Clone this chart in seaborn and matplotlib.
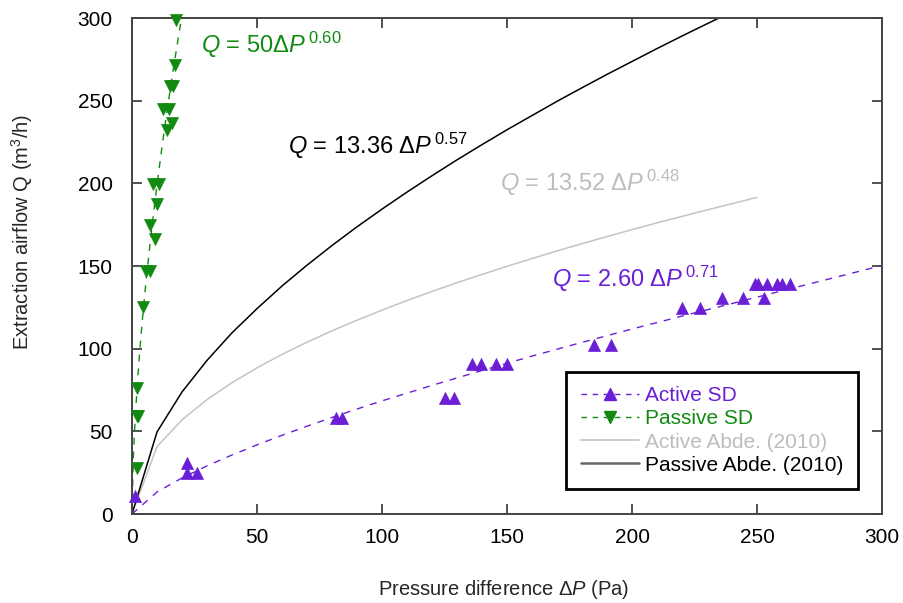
import matplotlib
matplotlib.use("Agg")
import matplotlib.pyplot as plt
import seaborn as sns
import numpy as np
from matplotlib.lines import Line2D

# ---------------- data ----------------
active_dp = [1.2, 21.9, 22.1, 26.1, 81.5, 83.9, 125.0, 128.8, 135.9, 139.6, 145.6, 149.9,
             184.8, 191.5, 219.9, 227.2, 236.1, 244.3, 252.8,
             249.0, 250.5, 254.0, 258.0, 260.0, 263.0]
active_q = [10.9, 31.0, 25.0, 25.0, 58.0, 58.0, 70.0, 70.0, 90.5, 90.5, 90.5, 90.5,
            102.5, 102.5, 124.5, 124.5, 130.5, 130.5, 130.5,
            139.0, 139.0, 139.0, 139.0, 139.0, 139.0]

passive_dp = [1.9, 1.8, 2.4, 1.9, 4.5, 5.5, 7.2, 7.2, 9.2, 10.1, 8.4, 10.8,
              13.9, 15.9, 12.5, 14.9, 15.2, 16.2, 17.2, 17.5]
passive_q = [27.6, 59.5, 59.5, 76.0, 125.4, 147.2, 147.2, 174.8, 166.2, 187.5, 199.6, 199.6,
             232.3, 236.3, 244.8, 244.8, 258.9, 258.9, 271.6, 299.0]

active_fit_dp = [0, 10, 20, 30, 40, 50, 60, 70, 80, 90, 100, 120, 140, 160, 180, 200,
                 220, 240, 260, 280, 300]
active_fit_q = [0, 13.3, 21.8, 29.1, 35.7, 41.8, 47.6, 53.1, 58.4, 63.5, 68.4, 77.8, 86.8,
                95.5, 103.8, 111.9, 119.7, 127.3, 135.0, 142.6, 150.3]

passive_fit_dp = [0, 0.5, 1, 2, 3, 4, 5, 6, 8, 10, 12, 14, 16, 18, 20]
passive_fit_q = [0, 33.0, 50.0, 75.8, 96.6, 114.9, 131.3, 146.5, 174.1, 199.1, 222.1,
                 243.6, 263.9, 283.2, 301.7]

abde_dp = [0, 10, 20, 30, 40, 50, 60, 70, 80, 90, 100, 110, 120, 130, 140, 150, 160,
           170, 180, 190, 200, 210, 220, 230, 240, 250]
abde_active_q = [0, 40.8, 56.9, 69.2, 79.4, 88.4, 96.5, 103.9, 110.8, 117.2, 123.3, 129.1,
                 134.6, 139.9, 144.9, 149.8, 154.5, 159.1, 163.5, 167.8, 172.0, 176.1,
                 180.0, 183.9, 187.7, 191.5]
abde_passive_q = [0, 49.6, 73.8, 92.9, 109.6, 124.2, 137.9, 150.5, 162.4, 173.7, 184.4,
                  194.7, 204.6, 214.2, 223.4, 232.4, 241.0, 249.6, 257.8, 265.9, 273.7,
                  281.5, 289.1, 296.5, 303.8, 311.0]

x_ticks = [0, 50, 100, 150, 200, 250, 300]
y_ticks = [0, 50, 100, 150, 200, 250, 300]

labels = ["Active SD", "Passive SD", "Active Abde. (2010)", "Passive Abde. (2010)"]

# ---------------- style ----------------
PURPLE = "#6a1ed6"
GREEN = "#128a12"
GRAY = "#c4c4c4"
BLACK = "#000000"

sns.set_style("ticks")
plt.rcParams["font.family"] = ["Liberation Sans", "DejaVu Sans"]
plt.rcParams["mathtext.fontset"] = "custom"
plt.rcParams["mathtext.rm"] = "Liberation Sans"
plt.rcParams["mathtext.it"] = "Liberation Sans:italic"
plt.rcParams["mathtext.bf"] = "Liberation Sans:bold"

fig = plt.figure(figsize=(9.04, 6.03), dpi=100)
ax = fig.add_axes([132 / 904, 1 - 514 / 603, 750 / 904, 496 / 603])

# reference curves
sns.lineplot(x=abde_dp, y=abde_active_q, ax=ax, color=GRAY, lw=1.1, estimator=None,
             sort=False, legend=False)
sns.lineplot(x=abde_dp, y=abde_passive_q, ax=ax, color=BLACK, lw=1.1, estimator=None,
             sort=False, legend=False)

# fitted curves
sns.lineplot(x=active_fit_dp, y=active_fit_q, ax=ax, color=PURPLE, lw=1.0, estimator=None,
             sort=False, legend=False, linestyle=(0, (5, 5)))
sns.lineplot(x=passive_fit_dp, y=passive_fit_q, ax=ax, color=GREEN, lw=1.0, estimator=None,
             sort=False, legend=False, linestyle=(0, (5, 5)))

# measured points
sns.scatterplot(x=active_dp, y=active_q, ax=ax, marker="^", color=PURPLE, s=75,
                edgecolor=PURPLE, linewidth=0.5, legend=False, zorder=5, clip_on=False)
sns.scatterplot(x=passive_dp, y=passive_q, ax=ax, marker="v", color=GREEN, s=75,
                edgecolor=GREEN, linewidth=0.5, legend=False, zorder=5, clip_on=False)

ax.set_xlim(0, 300)
ax.set_ylim(0, 300)
ax.set_xticks(x_ticks)
ax.set_yticks(y_ticks)
ax.tick_params(direction="in", length=7, width=1.2, colors="#333333", labelcolor="black",
               labelsize=15, top=True, right=True, pad=10)
ax.tick_params(axis="y", pad=14)
for sp in ax.spines.values():
    sp.set_linewidth(1.4)
    sp.set_color("#444444")

ax.set_xlabel("Pressure difference \u0394$\\mathit{P}$ (Pa)", fontsize=14.5)
ax.set_ylabel("Extraction airflow Q (m$^{3}$/h)", fontsize=14.5)
ax.xaxis.set_label_coords(0.496, -0.153)
ax.xaxis.label.set_va("center")
ax.yaxis.set_label_coords(-0.147, 0.569)
ax.yaxis.label.set_va("center")

# equations
ax.text(27.5, 283.5, "$\\mathit{Q}$ = 50\u0394$\\mathit{P}^{\\,0.60}$", color=GREEN, fontsize=17,
        va="center", ha="left")
ax.text(62.5, 222.5, "$\\mathit{Q}$ = 13.36 \u0394$\\mathit{P}^{\\,0.57}$", color=BLACK,
        fontsize=17, va="center", ha="left")
ax.text(147, 200, "$\\mathit{Q}$ = 13.52 \u0394$\\mathit{P}^{\\,0.48}$", color="#bdbdbd",
        fontsize=17, va="center", ha="left")
ax.text(168, 142, "$\\mathit{Q}$ = 2.60 \u0394$\\mathit{P}^{\\,0.71}$", color=PURPLE,
        fontsize=17, va="center", ha="left")

handles = [
    Line2D([], [], color=PURPLE, lw=1.0, linestyle=(0, (4, 4)), marker="^", markersize=9),
    Line2D([], [], color=GREEN, lw=1.0, linestyle=(0, (4, 4)), marker="v", markersize=9),
    Line2D([], [], color=GRAY, lw=1.2),
    Line2D([], [], color="#666666", lw=1.8),
]
leg = ax.legend(handles, labels, loc="upper left", bbox_to_anchor=(0.579, 0.287),
                fontsize=15, frameon=True, fancybox=False, framealpha=1,
                edgecolor="black", handlelength=2.8, handletextpad=0.3,
                labelspacing=0.2, borderpad=0.7, borderaxespad=0)
leg.get_frame().set_linewidth(2.0)
for txt, c in zip(leg.get_texts(), [PURPLE, GREEN, "#bdbdbd", BLACK]):
    txt.set_color(c)

fig.savefig("out.png", dpi=100)
